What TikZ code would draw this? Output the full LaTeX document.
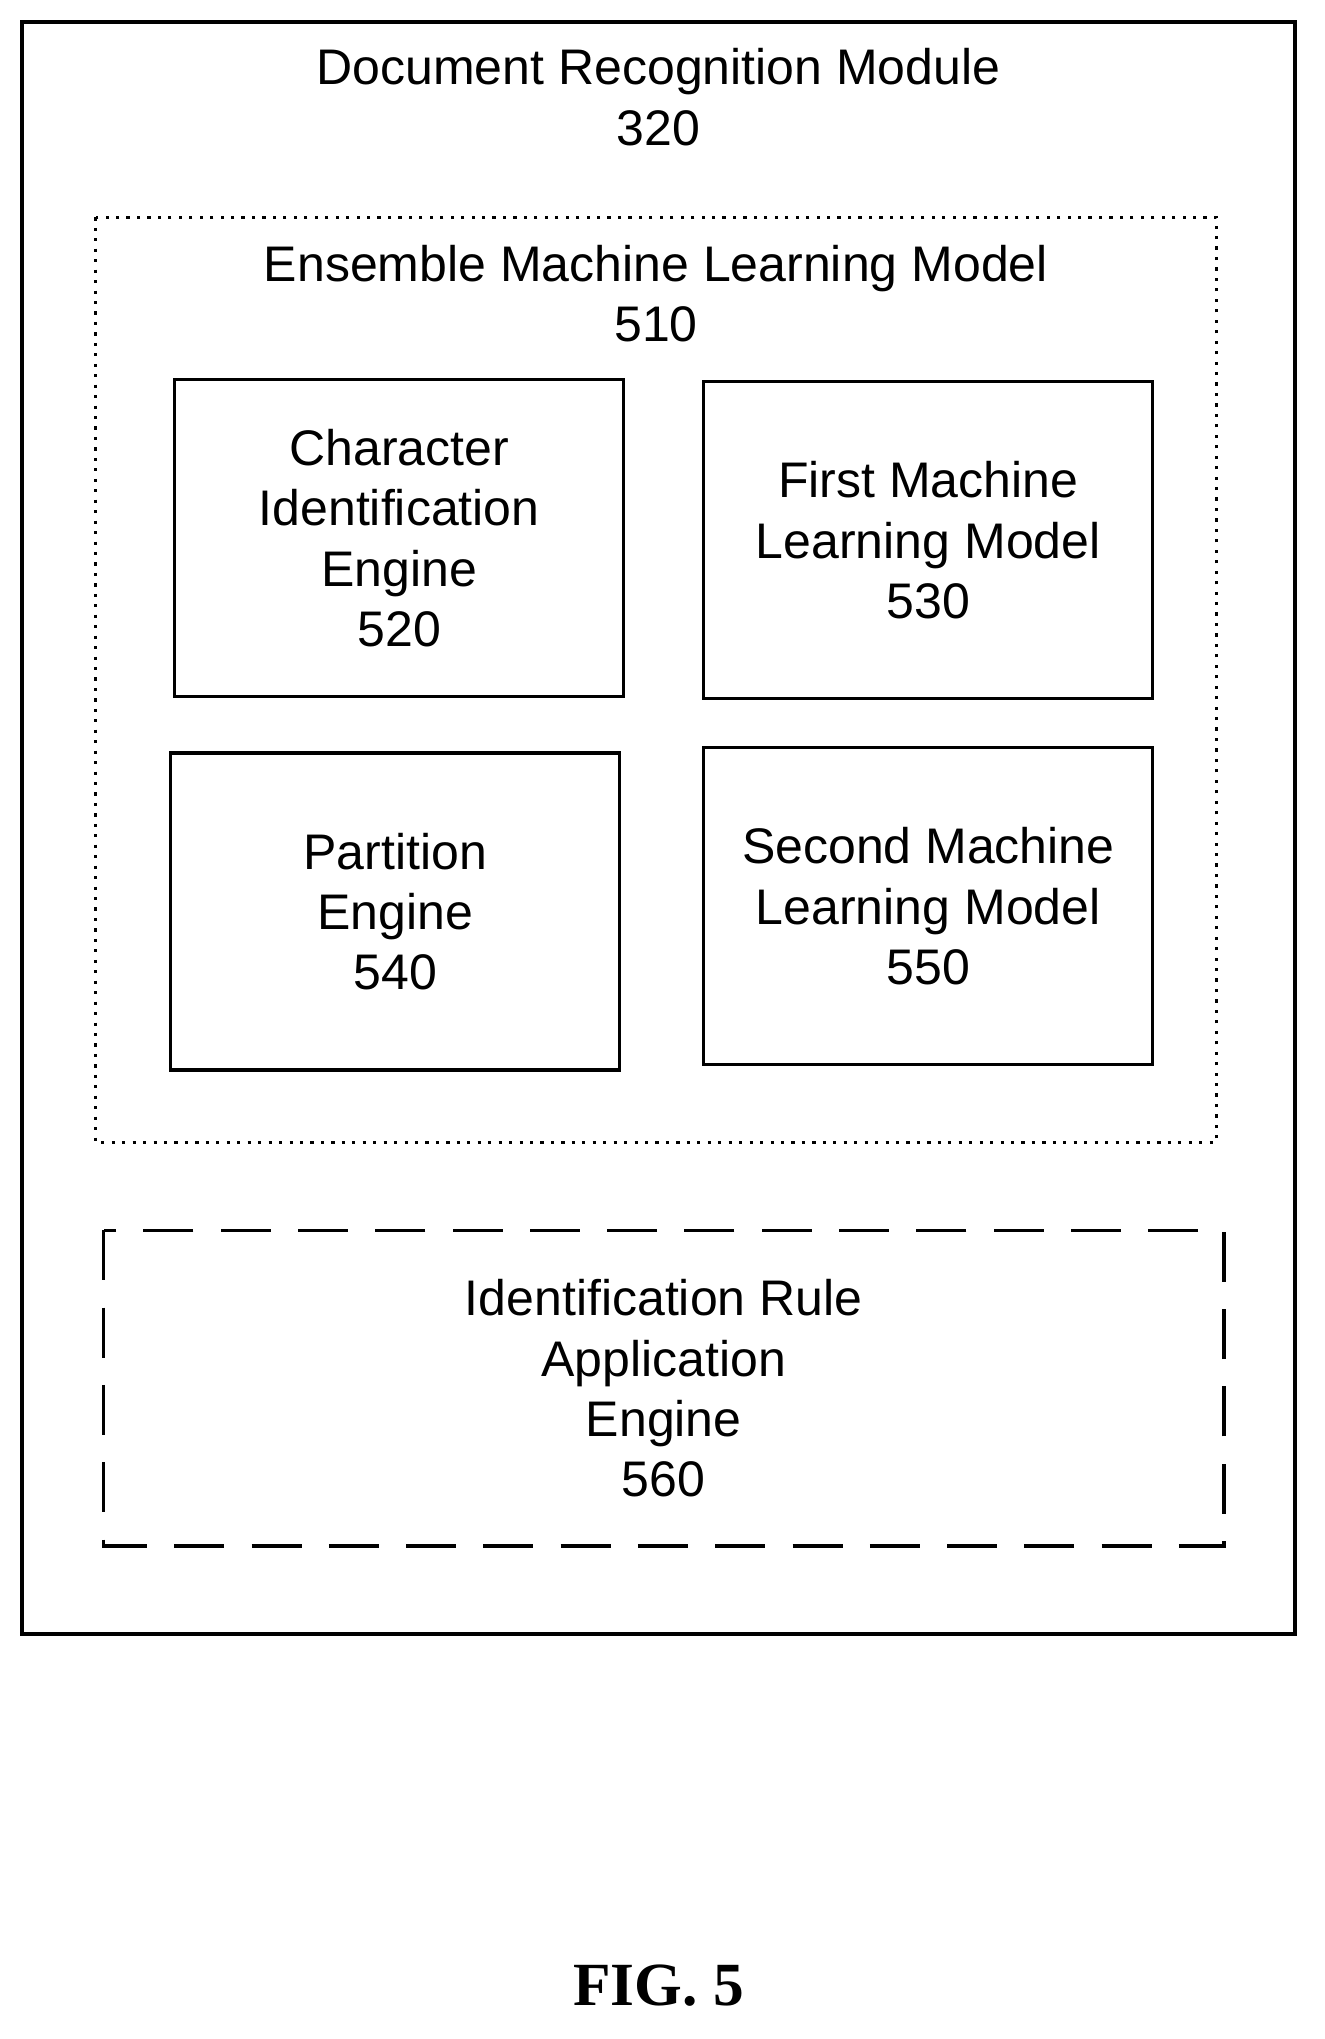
\documentclass[tikz,border=0pt]{standalone}
\usepackage{fontspec}
\setmainfont{Liberation Sans}
\newfontfamily\figfont{Liberation Serif}
\usetikzlibrary{shapes,arrows,positioning}

\begin{document}
\begin{tikzpicture}[x=0.02cm,y=-0.02cm,
    box/.style={draw=black,line width=1.4pt,rectangle,align=center,inner sep=0pt,
      minimum width=6.94cm,minimum height=4.9cm,
      font=\fontsize{22}{26.5}\selectfont},
    label/.style={align=center,font=\fontsize{22}{26.5}\selectfont}]
    \useasboundingbox (0,0) rectangle (1024,1576);

    % outer module
    \draw[line width=1.4pt] (17,17) rectangle (1001,1263);
    \node (module) [label] at (509,75) {Document Recognition Module\\320};

    % ensemble
    \draw[line width=1.4pt,dash pattern=on 1.4pt off 3.2pt] (74,168) rectangle (940,883);
    \node (ensemble) [label] at (507,227) {Ensemble Machine Learning Model\\510};

    \node (charid) [box] at (308.5,416) {Character\\Identification\\Engine\\520};
    \node (firstml) [box] at (717.5,417.5) {First Machine\\Learning Model\\530};
    \node (partition) [box] at (305.5,704.5) {Partition\\Engine\\540};
    \node (secondml) [box] at (717.5,700.5) {Second Machine\\Learning Model\\550};

    % rule engine
    \draw[line width=1.4pt,dash pattern=on 22pt off 12pt] (80,951) rectangle (946,1195);
    \node (rules) [label] at (513,1073) {Identification Rule\\Application\\Engine\\560};

    \node (fig) [font=\figfont\bfseries\fontsize{27}{30}\selectfont] at (509,1535) {FIG. 5};
\end{tikzpicture}
\end{document}
